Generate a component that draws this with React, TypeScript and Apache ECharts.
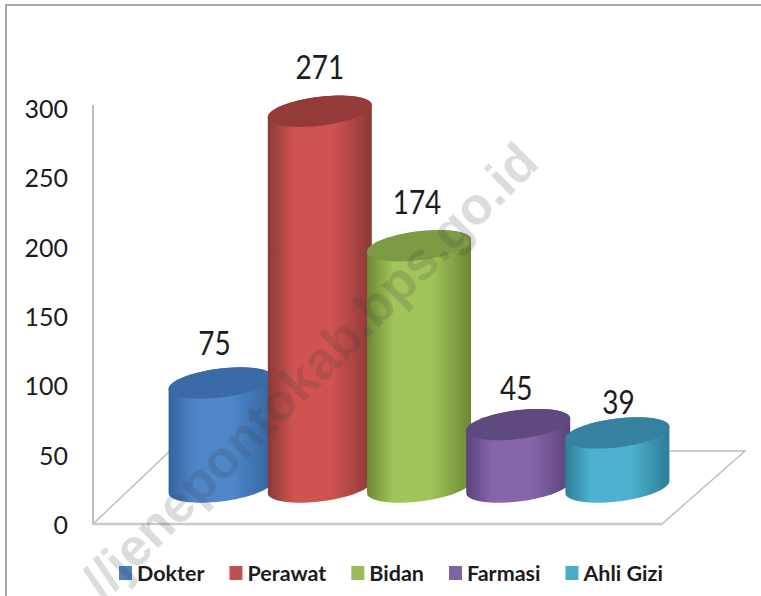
import React, { useEffect, useRef } from "react";
import * as echarts from "echarts";

const categories = ["Dokter", "Perawat", "Bidan", "Farmasi", "Ahli Gizi"];
const values = [75, 271, 174, 45, 39];
const yTicks = [0, 50, 100, 150, 200, 250, 300];
const legendColors = ["#4f81bd", "#c0504d", "#9bbb59", "#8064a2", "#4bacc6"];
const bodyCenter = ["#4e86c8", "#cf5351", "#a1c45b", "#8666ab", "#4db2d0"];
const bodyEdge = ["#33649e", "#8a3937", "#6b8834", "#5a437b", "#2d7e96"];
const capColor = ["#3a6ba8", "#943b3a", "#7d9a45", "#5f4a80", "#36819f"];
const labelLift = [41, 45, 45, 38, 32];
const labelShift = [-6, 0, -2, -2, 1];
const watermark = "//jenepontokab.bps.go.id";

const FONT = "Lato";
const FLOOR_LIFT = 37;
const HALF_W = 52;
const HALF_H = 14.5;
const TILT = 6;

function ring(cx: number, cy: number, from: number, to: number, n = 40) {
  const pts: number[][] = [];
  for (let i = 0; i <= n; i++) {
    const t = from + ((to - from) * i) / n;
    pts.push([
      cx + HALF_W * Math.cos(t),
      cy - TILT * Math.cos(t) + HALF_H * Math.sin(t),
    ]);
  }
  return pts;
}

function makeSeries(idx: number) {
  return {
    name: categories[idx],
    type: "custom",
    coordinateSystem: "cartesian2d",
    itemStyle: { color: legendColors[idx] },
    z: 2 + idx,
    clip: false,
    data: [[categories[idx], values[idx]]],
    renderItem: (_p: any, api: any) => {
      const top = api.coord([api.value(0), api.value(1)]);
      const base = api.coord([api.value(0), 0]);
      const cx = top[0];
      const topY = top[1] - FLOOR_LIFT;
      const baseY = base[1] - FLOOR_LIFT;
      const lower = ring(cx, baseY, Math.PI, 0);
      const upper = ring(cx, topY, 0, -Math.PI);
      const fill = new echarts.graphic.LinearGradient(0, 0, 1, 0, [
        { offset: 0, color: bodyEdge[idx] },
        { offset: 0.25, color: bodyCenter[idx] },
        { offset: 0.62, color: bodyCenter[idx] },
        { offset: 1, color: bodyEdge[idx] },
      ]);
      return {
        type: "group",
        children: [
          {
            type: "polygon",
            shape: { points: [...lower, ...upper] },
            style: { fill },
          },
          {
            type: "polygon",
            shape: { points: ring(cx, topY, 0, Math.PI * 2, 72) },
            style: { fill: capColor[idx] },
          },
          {
            type: "text",
            x: cx + labelShift[idx],
            y: topY - labelLift[idx],
            scaleY: 1.2,
            style: {
              text: String(values[idx]),
              font: `28px ${FONT}`,
              fill: "#1c1c1c",
              align: "center",
              verticalAlign: "middle",
            },
          },
        ],
      };
    },
  };
}

export default function App() {
  const ref = useRef<HTMLDivElement>(null);
  useEffect(() => {
    const chart = echarts.init(ref.current!, undefined, { renderer: "svg" });
    chart.setOption({
      animation: false,
      backgroundColor: "#ffffff",
      grid: { left: 171, right: 94, top: 108, height: 416 },
      xAxis: {
        type: "category",
        data: categories,
        axisLine: { show: false },
        axisTick: { show: false },
        axisLabel: { show: false },
      },
      yAxis: {
        type: "value",
        min: yTicks[0],
        max: yTicks[yTicks.length - 1],
        interval: 50,
        offset: 78,
        axisLine: { show: true, lineStyle: { color: "#bdbdbd", width: 2 } },
        axisTick: { show: false },
        splitLine: { show: false },
        axisLabel: { color: "#1c1c1c", fontFamily: FONT, fontSize: 25, margin: 25 },
      },
      legend: {
        left: 114,
        top: 557,
        itemWidth: 13,
        itemHeight: 14,
        itemGap: 25,
        icon: "rect",
        data: categories,
        textStyle: { fontFamily: FONT, fontWeight: "bold", fontSize: 21.5, color: "#1c1c1c" },
      },
      series: categories.map((_, i) => makeSeries(i)),
      graphic: {
        elements: [
          {
            type: "polyline",
            z: 1,
            shape: { points: [[6, 596], [6, 5], [761, 5]] },
            style: { fill: "none", stroke: "#a6a6a6", lineWidth: 2 },
          },
          {
            type: "line",
            z: 1,
            shape: { x1: 93, y1: 105, x2: 93, y2: 110 },
            style: { stroke: "#bdbdbd", lineWidth: 2 },
          },
          {
            type: "polygon",
            z: 1,
            shape: { points: [[93, 524], [170, 451], [745, 451], [662, 524]] },
            style: { fill: "#ffffff", stroke: "#bfbfbf", lineWidth: 1.5 },
          },
          {
            type: "line",
            z: 1,
            shape: { x1: 93, y1: 524, x2: 662, y2: 524 },
            style: { stroke: "#c9c9c9", lineWidth: 2.5 },
          },
          {
            type: "text",
            z: 50,
            x: 528,
            y: 152,
            rotation: (45 * Math.PI) / 180,
            style: {
              text: watermark,
              font: "bold 52.5px 'Liberation Sans'",
              fill: "rgba(60,60,60,0.18)",
              align: "right",
              verticalAlign: "middle",
            },
          },
        ],
      },
    });
    return () => chart.dispose();
  }, []);
  return (
    <div
      ref={ref}
      style={{ position: "fixed", left: 0, top: 0, width: 761, height: 596 }}
    />
  );
}
